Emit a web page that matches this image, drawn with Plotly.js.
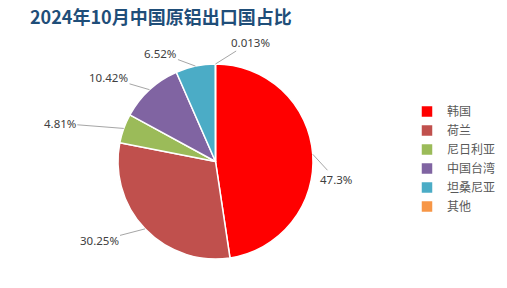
<!DOCTYPE html>
<html>
<head>
<meta charset="utf-8">
<script src="https://cdn.plot.ly/plotly-3.0.1.min.js"></script>
<style>html,body{margin:0;padding:0;background:#fff;}#chart{width:507px;height:288px;}</style>
</head>
<body>
<div id="chart"></div>
<script>
// Data
const categories = ['韩国', '荷兰', '尼日利亚', '中国台湾', '坦桑尼亚', '其他'];
const values = [47.3, 30.25, 4.81, 10.42, 6.52, 0.013];
const valueLabels = ['47.3%', '30.25%', '4.81%', '10.42%', '6.52%', '0.013%'];
const colors = ['#FF0000', '#C0504D', '#9BBB59', '#8064A2', '#4BACC6', '#F79646'];

// Layout geometry (pixels)
const W = 507, H = 288;
const pieLeft = 118, pieRight = 313, pieTop = 64, pieBottom = 259;
const cx = (pieLeft + pieRight) / 2, cy = (pieTop + pieBottom) / 2;
const R = Math.min(pieRight - pieLeft, pieBottom - pieTop) / 2;
// label text offsets (px) relative to slice edge point
const labelOffsets = [[23, 25], [-46, 12], [-64, -5], [-41, -12], [-35, -13], [35, -22]];

const total = values.reduce((a, b) => a + b, 0);
let cum = 0;
const annotations = [];
values.forEach((v, i) => {
  const mid = (cum + v / 2) / total * 2 * Math.PI;
  cum += v;
  const px = cx + R * Math.sin(mid);
  const py = cy - R * Math.cos(mid);
  annotations.push({
    xref: 'paper', yref: 'paper',
    x: px / W, y: 1 - py / H,
    ax: labelOffsets[i][0], ay: labelOffsets[i][1],
    axref: 'pixel', ayref: 'pixel',
    text: valueLabels[i],
    showarrow: true, arrowhead: 0, arrowwidth: 1, arrowcolor: '#A6A6A6',
    standoff: 0, startstandoff: 0,
    font: {family: '"Noto Sans", "Noto Sans CJK SC", sans-serif', size: 11.5, color: '#404040'}
  });
});

const trace = {
  type: 'pie',
  labels: categories,
  values: values,
  sort: false,
  direction: 'clockwise',
  rotation: 0,
  textinfo: 'none',
  hoverinfo: 'label+percent',
  marker: {colors: colors, line: {color: '#FFFFFF', width: 1.5}},
  domain: {x: [pieLeft / W, pieRight / W], y: [1 - pieBottom / H, 1 - pieTop / H]}
};

const layout = {
  width: W, height: H,
  margin: {l: 0, r: 0, t: 0, b: 0},
  paper_bgcolor: '#FFFFFF',
  title: {
    text: '2024年10月中国原铝出口国占比',
    x: 30 / W, xanchor: 'left', xref: 'paper',
    y: 1 - 18 / H, yanchor: 'middle', yref: 'container',
    font: {family: '"Noto Sans CJK SC", sans-serif', size: 18, color: '#1F4E79', weight: 'bold'}
  },
  showlegend: true,
  legend: {
    x: 407 / W, xanchor: 'left',
    y: 1 - 97 / H, yanchor: 'top',
    font: {family: '"Noto Sans CJK SC", sans-serif', size: 12, color: '#595959'},
    tracegroupgap: 0
  },
  annotations: annotations
};

Plotly.newPlot('chart', [trace], layout, {displayModeBar: false, staticPlot: true});
</script>
</body>
</html>
